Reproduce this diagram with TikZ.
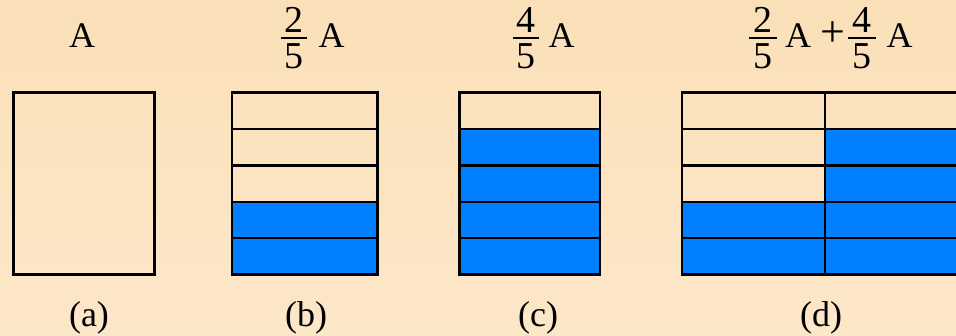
\documentclass[tikz,border=0pt]{standalone}
\usepackage{fontspec}
\setmainfont{Liberation Serif}
\definecolor{bgtop}{HTML}{FAE0B8}
\definecolor{bgbot}{HTML}{FDE7C9}
\definecolor{fillblue}{HTML}{0080FF}
\begin{document}
\begin{tikzpicture}[x=1pt,y=-1pt,
  cell/.style={draw=black,line width=2.4pt},
  full/.style={cell,fill=fillblue},
  lbl/.style={font=\fontsize{36}{42}\selectfont,inner sep=0pt,anchor=base},
  dig/.style={font=\fontsize{38}{44}\selectfont,inner sep=0pt,anchor=base},
  pls/.style={font=\fontsize{44}{50}\selectfont,inner sep=0pt,anchor=base},
  fracbar/.style={line width=1.8pt}]
\fill[top color=bgtop,bottom color=bgbot] (0,0) rectangle (956,335);
\useasboundingbox (0,0) rectangle (956,335);
\clip (0,0) rectangle (956,335);
% (a)
\draw[cell] (13.5,92.5) rectangle (154.5,274.5);
% (b)
\foreach \i in {0,1,2} \draw[cell] (232,{92.5+36.4*\i}) rectangle (377.5,{92.5+36.4*(\i+1)});
\foreach \i in {3,4} \draw[full] (232,{92.5+36.4*\i}) rectangle (377.5,{92.5+36.4*(\i+1)});
% (c)
\foreach \i in {0} \draw[cell] (459.5,{92.5+36.4*\i}) rectangle (600,{92.5+36.4*(\i+1)});
\foreach \i in {1,2,3,4} \draw[full] (459.5,{92.5+36.4*\i}) rectangle (600,{92.5+36.4*(\i+1)});
% (d)
\foreach \i in {0,1,2} \draw[cell] (682,{92.5+36.4*\i}) rectangle (825,{92.5+36.4*(\i+1)});
\foreach \i in {3,4} \draw[full] (682,{92.5+36.4*\i}) rectangle (825,{92.5+36.4*(\i+1)});
\foreach \i in {0} \draw[cell] (825,{92.5+36.4*\i}) rectangle (975,{92.5+36.4*(\i+1)});
\foreach \i in {1,2,3,4} \draw[full] (825,{92.5+36.4*\i}) rectangle (975,{92.5+36.4*(\i+1)});
% top labels
\node[lbl] (ta) at (82,47) {A};
\node[dig] (nb) at (294,32) {2};
\node[dig] (db) at (294,68) {5};
\draw[fracbar] (281,38.3) -- (307,38.3);
\node[lbl] (ab) at (331.5,47) {A};
\node[dig] (nc) at (526,32) {4};
\node[dig] (dc) at (526,68) {5};
\draw[fracbar] (513,38.3) -- (539,38.3);
\node[lbl] (ac) at (561.7,47) {A};
\node[dig] (nd1) at (763,32) {2};
\node[dig] (dd1) at (763,68) {5};
\draw[fracbar] (749,38.3) -- (777,38.3);
\node[lbl] (ad1) at (798,47) {A};
\node[pls] (plus) at (832.5,46) {+};
\node[dig] (nd2) at (862,32) {4};
\node[dig] (dd2) at (862,68) {5};
\draw[fracbar] (848,38.3) -- (876,38.3);
\node[lbl] (ad2) at (899.5,47) {A};
% bottom labels
\node[lbl] (la) at (89,326) {(a)};
\node[lbl] (lb) at (306,326) {(b)};
\node[lbl] (lc) at (538,326) {(c)};
\node[lbl] (ld) at (821,326) {(d)};
\end{tikzpicture}
\end{document}
